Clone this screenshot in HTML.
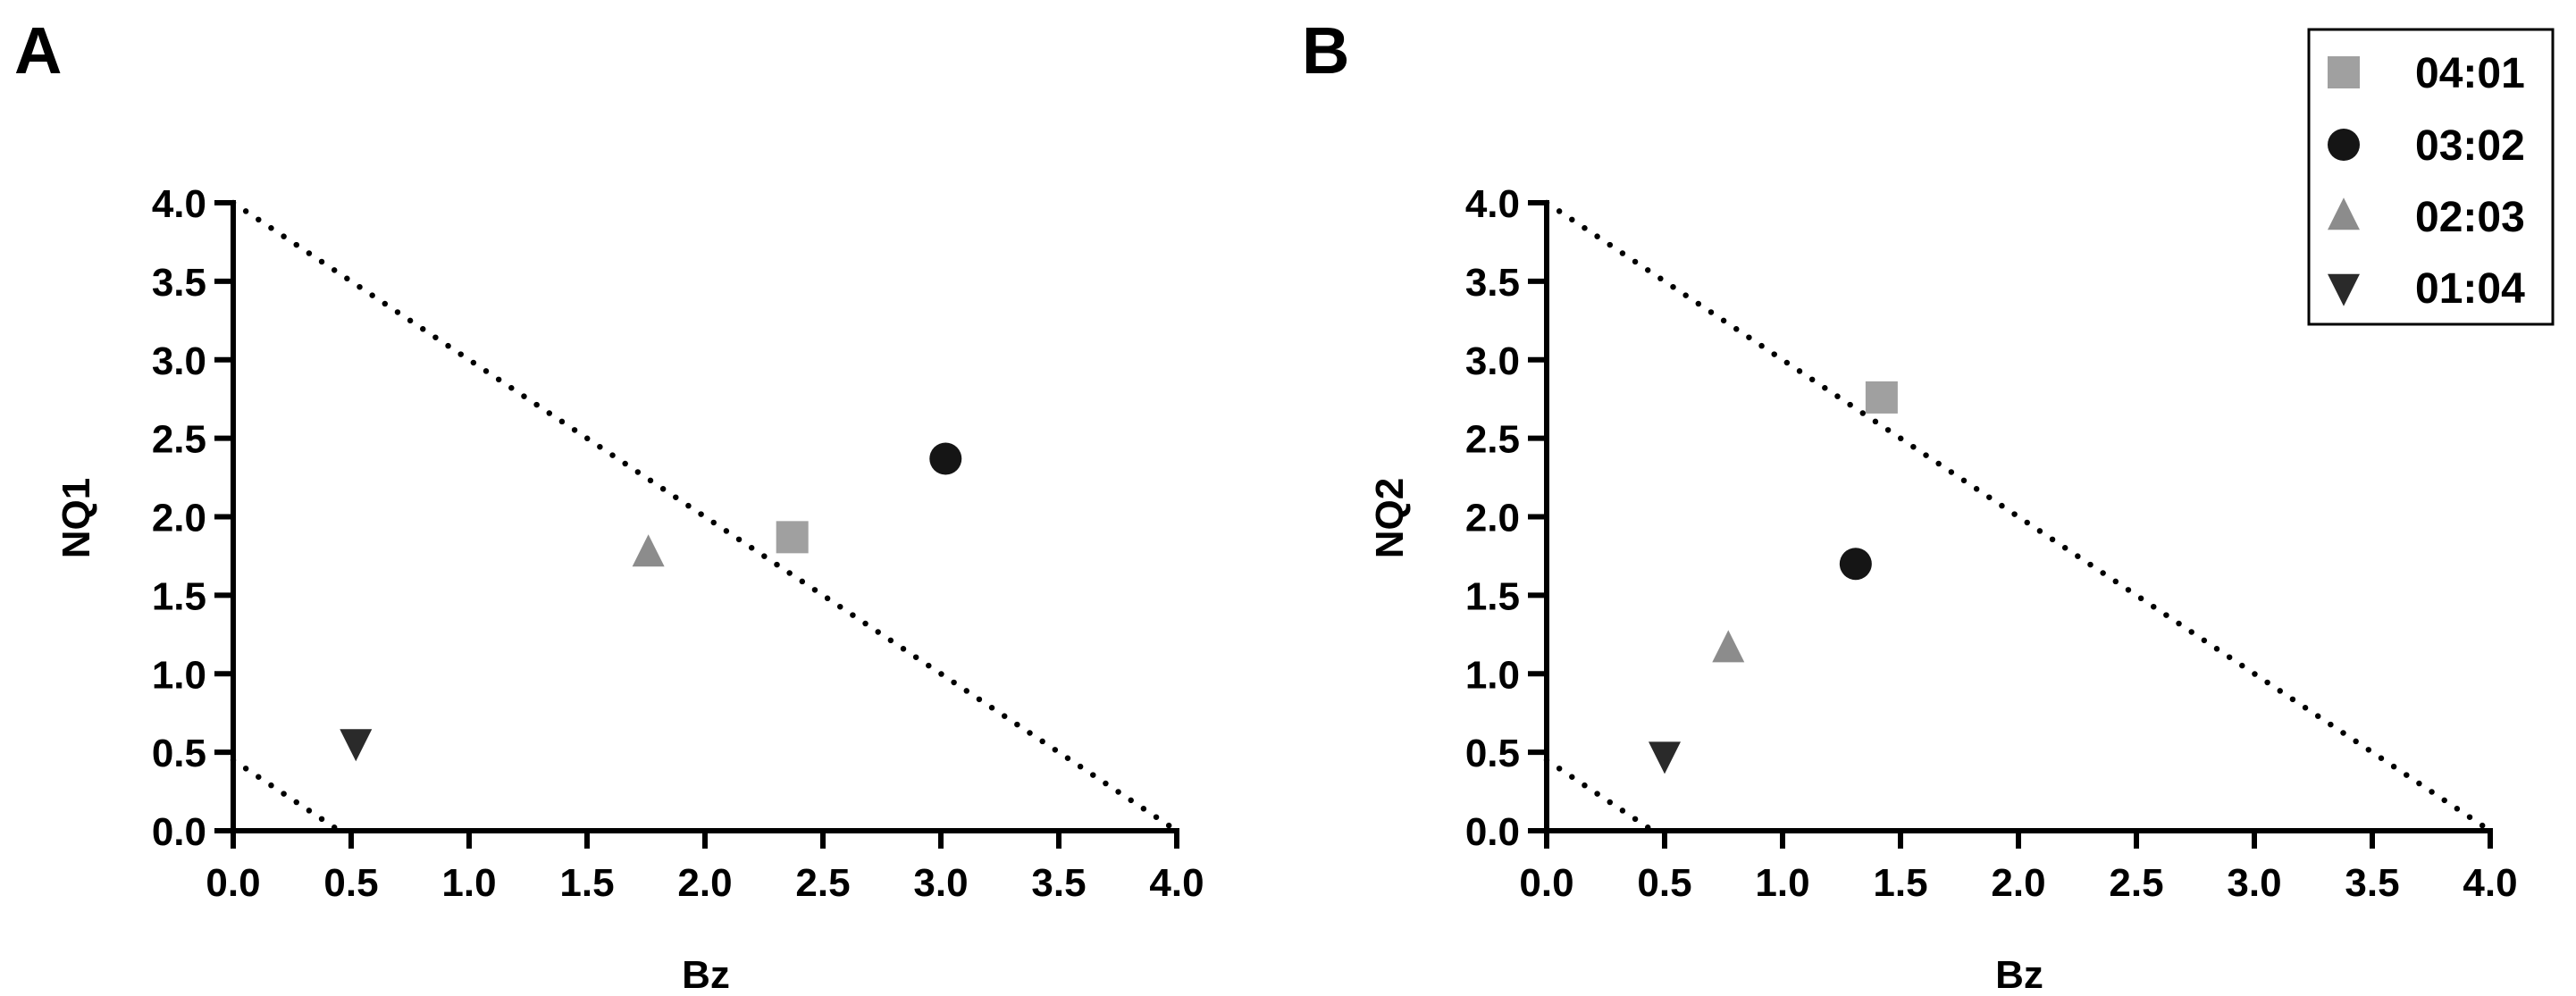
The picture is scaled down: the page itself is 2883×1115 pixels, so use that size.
<!DOCTYPE html>
<html><head><meta charset="utf-8"><style>
html,body{margin:0;padding:0;background:#fff}
svg{display:block}
text{font-family:"Liberation Sans",Arial,sans-serif;font-weight:bold;fill:#000}
</style></head><body>
<svg id="chart" width="2883" height="1115" viewBox="0 0 2883 1115"></svg>
<script>
const ticks = [0, 0.5, 1, 1.5, 2, 2.5, 3, 3.5, 4];
const tickLabels = ["0.0","0.5","1.0","1.5","2.0","2.5","3.0","3.5","4.0"];
const seriesNames = ["04:01","03:02","02:03","01:04"];
const seriesShapes = ["square","circle","up","down"];
const seriesColors = ["#a0a0a0","#151515","#8c8c8c","#2a2a2a"];
const panelA_x = [2.37, 3.02, 1.76, 0.52];
const panelA_y = [1.87, 2.37, 1.77, 0.56];
const panelB_x = [1.42, 1.31, 0.77, 0.50];
const panelB_y = [2.76, 1.70, 1.16, 0.48];
const refLineOuter = [[0,4],[4,0]];
const refLineInner = [[0,0.45],[0.45,0]];

const NS = "http://www.w3.org/2000/svg";
const svg = document.getElementById('chart');
function mk(tag, attrs, parent){
  const e = document.createElementNS(NS, tag);
  for (const k in attrs) e.setAttribute(k, attrs[k]);
  (parent||svg).appendChild(e);
  return e;
}
function marker(g, shape, cx, cy, color, s){
  let e;
  const h = s/2;
  if (shape==="square") e = mk('rect',{x:cx-h,y:cy-h,width:s,height:s,fill:color},g);
  else if (shape==="circle") e = mk('circle',{cx:cx,cy:cy,r:h,fill:color},g);
  else if (shape==="up") e = mk('polygon',{points:`${cx-h},${cy+h*0.85} ${cx+h},${cy+h*0.85} ${cx},${cy-h*1.15}`,fill:color},g);
  else e = mk('polygon',{points:`${cx-h},${cy-h*0.85} ${cx+h},${cy-h*0.85} ${cx},${cy+h*1.15}`,fill:color},g);
  return e;
}
function panel(ox, letter, letterX, ylabel, xs, ys){
  const x0 = ox, y0 = 930, xw = 1056, yh = 703;
  const sx = v => x0 + v/4*xw;
  const sy = v => y0 - v/4*yh;
  const g = mk('g',{});
  
  
  const L = mk('text',{x:letterX,y:82,'font-size':74},g);
  L.textContent = letter;
  
  
  [refLineOuter, refLineInner].forEach((ln,i)=>{
    const p = mk('line',{x1:sx(ln[0][0]),y1:sy(ln[0][1]),x2:sx(ln[1][0]),y2:sy(ln[1][1]),stroke:'#000','stroke-width':6.5,'stroke-linecap':'round','stroke-dasharray':'0 17'},g);
    
    
  });
  const ax = mk('g',{},g);
  
  
  mk('line',{x1:x0,y1:sy(4)-3,x2:x0,y2:y0+20,stroke:'#000','stroke-width':6},ax);
  mk('line',{x1:x0-21,y1:y0,x2:sx(4)+3,y2:y0,stroke:'#000','stroke-width':6},ax);
  ticks.forEach((t,i)=>{
    mk('line',{x1:sx(t),y1:y0,x2:sx(t),y2:y0+20,stroke:'#000','stroke-width':6},ax);
    mk('line',{x1:x0-21,y1:sy(t),x2:x0,y2:sy(t),stroke:'#000','stroke-width':6},ax);
    const tx = mk('text',{x:sx(t),y:y0+73,'font-size':44,'text-anchor':'middle'},ax);
    tx.textContent = tickLabels[i];
    
    
    const ty = mk('text',{x:x0-30,y:sy(t)+16,'font-size':44,'text-anchor':'end'},ax);
    ty.textContent = tickLabels[i];
    
    
  });
  const xt = mk('text',{x:x0+529,y:1106,'font-size':44,'text-anchor':'middle'},g);
  xt.textContent = 'Bz';
  
  
  const yt = mk('text',{x:0,y:0,'font-size':44,'text-anchor':'middle',transform:`translate(${x0-161},580) rotate(-90)`},g);
  yt.textContent = ylabel;
  
  
  xs.forEach((v,i)=>{
    const m = marker(g, seriesShapes[i], sx(v), sy(ys[i]), seriesColors[i], 36);
    
    
  });
}
panel(261, 'A', 16, 'NQ1', panelA_x, panelA_y);
panel(1731, 'B', 1457, 'NQ2', panelB_x, panelB_y);
const lg = mk('g',{});


mk('rect',{x:2584,y:33,width:273,height:330,fill:'#fff',stroke:'#000','stroke-width':3},lg);
const rowY = [81,162,242,322];
seriesNames.forEach((n,i)=>{
  const e = mk('g',{},lg);
  
  
  marker(e, seriesShapes[i], 2623, rowY[i], seriesColors[i], 36);
  const t = mk('text',{x:2703,y:rowY[i]+17,'font-size':48},e);
  t.textContent = n;
});
</script>
</body></html>
